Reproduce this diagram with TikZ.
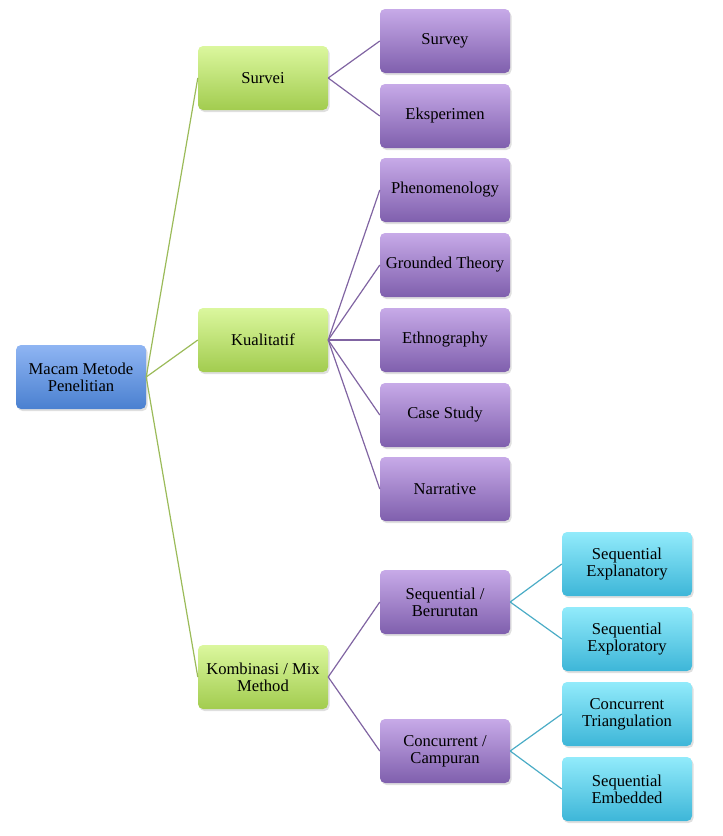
\documentclass[tikz,border=0pt]{standalone}
\usepackage{fontspec}
\setmainfont{Liberation Serif}
\usetikzlibrary{shadows}
\definecolor{rootTop}{HTML}{8FB5F3}
\definecolor{rootBot}{HTML}{4A80D0}
\definecolor{greenTop}{HTML}{DBF79E}
\definecolor{greenBot}{HTML}{A2CC4F}
\definecolor{purpTop}{HTML}{C7AAE8}
\definecolor{purpBot}{HTML}{7F5FAD}
\definecolor{cyanTop}{HTML}{92EBFB}
\definecolor{cyanBot}{HTML}{3DB6D8}
\definecolor{greenLine}{HTML}{9BBB59}
\definecolor{purpLine}{HTML}{8064A2}
\definecolor{cyanLine}{HTML}{4BACC6}
\tikzset{
  box/.style={rounded corners=5pt, minimum width=130pt, minimum height=64pt,
    align=center, inner sep=2pt, font=\fontsize{16.6}{17}\selectfont,
    drop shadow={shadow xshift=1.5pt, shadow yshift=-2pt, opacity=0.25}},
  rootbox/.style={box, top color=rootTop, bottom color=rootBot},
  greenbox/.style={box, top color=greenTop, bottom color=greenBot},
  purpbox/.style={box, top color=purpTop, bottom color=purpBot},
  cyanbox/.style={box, top color=cyanTop, bottom color=cyanBot},
  link/.style={line width=1.2pt},
}
\begin{document}
\begin{tikzpicture}[x=1pt, y=-1pt]
        \useasboundingbox (0,0) rectangle (723,836);
        % root
        \node[rootbox] (root) at (81,377) {Macam Metode\\Penelitian};
        % level one
        \node[greenbox] (survei) at (263,78) {Survei};
        \node[greenbox] (kual) at (263,340) {Kualitatif};
        \node[greenbox] (komb) at (263,677) {Kombinasi / Mix\\Method};
        % level two
        \node[purpbox] (survey) at (445,41) {Survey};
        \node[purpbox] (eksp) at (445,116) {Eksperimen};
        \node[purpbox] (phen) at (445,190) {Phenomenology};
        \node[purpbox] (ground) at (445,265) {Grounded Theory};
        \node[purpbox] (ethno) at (445,340) {Ethnography};
        \node[purpbox] (case) at (445,415) {Case Study};
        \node[purpbox] (narr) at (445,489) {Narrative};
        \node[purpbox] (seq) at (445,602) {Sequential /\\Berurutan};
        \node[purpbox] (conc) at (445,751) {Concurrent /\\Campuran};
        % level three
        \node[cyanbox] (seqexpl) at (627,564) {Sequential\\Explanatory};
        \node[cyanbox] (seqexpr) at (627,639) {Sequential\\Exploratory};
        \node[cyanbox] (conctri) at (627,714) {Concurrent\\Triangulation};
        \node[cyanbox] (seqemb) at (627,789) {Sequential\\Embedded};
        % lines
        \draw[greenLine, link] (root.east) -- (survei.west);
        \draw[greenLine, link] (root.east) -- (kual.west);
        \draw[greenLine, link] (root.east) -- (komb.west);
        \draw[purpLine, link] (survei.east) -- (survey.west);
        \draw[purpLine, link] (survei.east) -- (eksp.west);
        \draw[purpLine, link] (kual.east) -- (phen.west);
        \draw[purpLine, link] (kual.east) -- (ground.west);
        \draw[purpLine, link] (kual.east) -- (ethno.west);
        \draw[purpLine, link] (kual.east) -- (case.west);
        \draw[purpLine, link] (kual.east) -- (narr.west);
        \draw[purpLine, link] (komb.east) -- (seq.west);
        \draw[purpLine, link] (komb.east) -- (conc.west);
        \draw[cyanLine, link] (seq.east) -- (seqexpl.west);
        \draw[cyanLine, link] (seq.east) -- (seqexpr.west);
        \draw[cyanLine, link] (conc.east) -- (conctri.west);
        \draw[cyanLine, link] (conc.east) -- (seqemb.west);
\end{tikzpicture}
\end{document}
